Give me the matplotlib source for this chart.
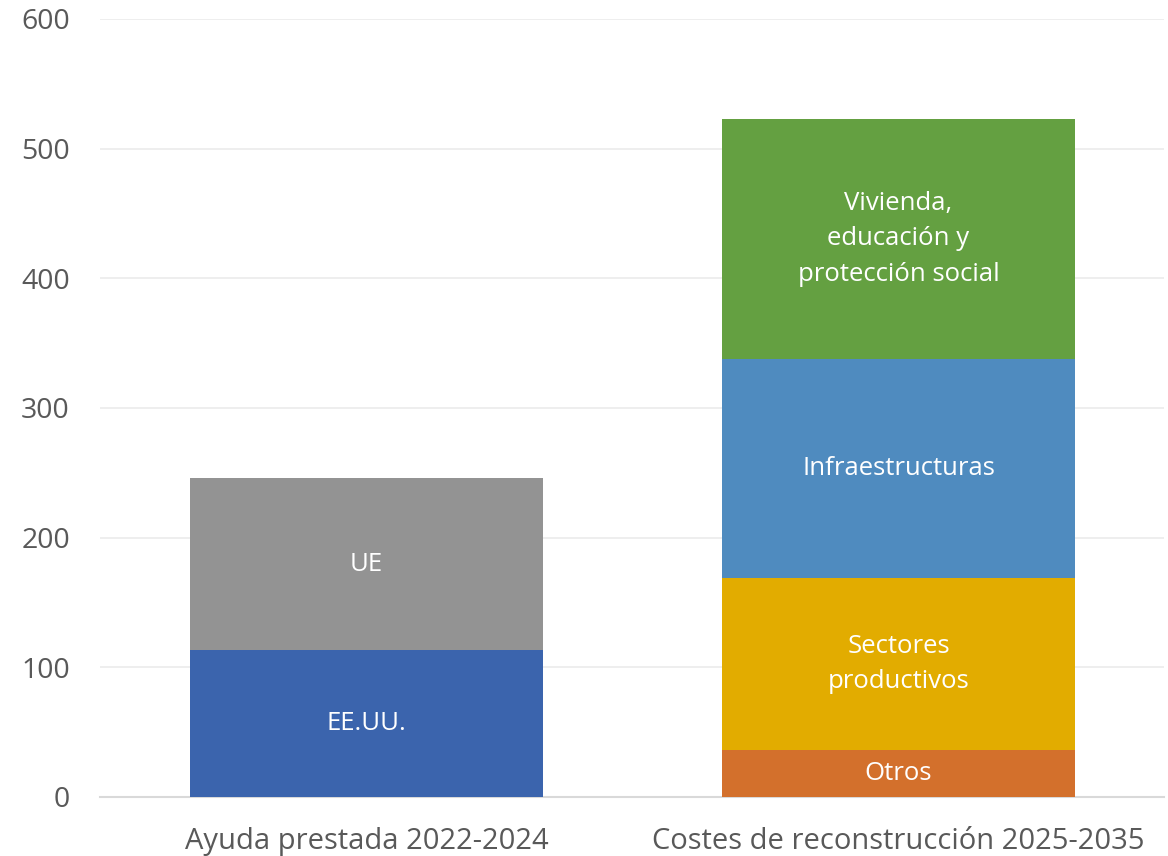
import matplotlib
matplotlib.use('Agg')
import matplotlib.pyplot as plt

plt.rcParams['font.family'] = ['Open Sans', 'DejaVu Sans']

# datos (miles de millones)
categorias = ['Ayuda prestada 2022-2024', 'Costes de reconstrucción 2025-2035']
ayuda_nombres = ['EE.UU.', 'UE']
ayuda_valores = [113, 133]
ayuda_colores = ['#3B64AD', '#939393']
costes_nombres = ['Otros', 'Sectores\nproductivos', 'Infraestructuras',
                  'Vivienda,\neducación y\nprotección social']
costes_valores = [36, 133, 169, 185]
costes_colores = ['#D3702C', '#E2AC00', '#4F8BBF', '#64A041']

fig = plt.figure(figsize=(11.68, 8.56), dpi=100)
ax = fig.add_axes([0.086, 0.069, 0.911, 0.909])

ancho = 0.665

def apilar(x, nombres, valores, colores):
    base = 0
    for n, v, c in zip(nombres, valores, colores):
        ax.bar(x, v, bottom=base, width=ancho, color=c, zorder=3)
        ax.text(x, base + v / 2, n, ha='center', va='center', color='white',
                fontsize=18.5, linespacing=1.55, zorder=4)
        base += v

apilar(0, ayuda_nombres, ayuda_valores, ayuda_colores)
apilar(1, costes_nombres, costes_valores, costes_colores)

ax.set_xlim(-0.5, 1.5)
ax.set_ylim(0, 600)
ax.set_yticks(range(0, 601, 100))
ax.set_xticks([0, 1])
ax.set_xticklabels(categorias, fontsize=21)
ax.grid(axis='y', color='#EBEBEB', linewidth=1.2, zorder=0)
for s in ['top', 'right', 'left']:
    ax.spines[s].set_visible(False)
ax.spines['bottom'].set_color('#D9D9D9')
ax.spines['bottom'].set_linewidth(1.5)
ax.tick_params(axis='both', length=0, labelcolor='#595959')
ax.tick_params(axis='y', pad=22, labelsize=20.5)
ax.tick_params(axis='x', pad=22)

fig.savefig('out.png', dpi=100)
